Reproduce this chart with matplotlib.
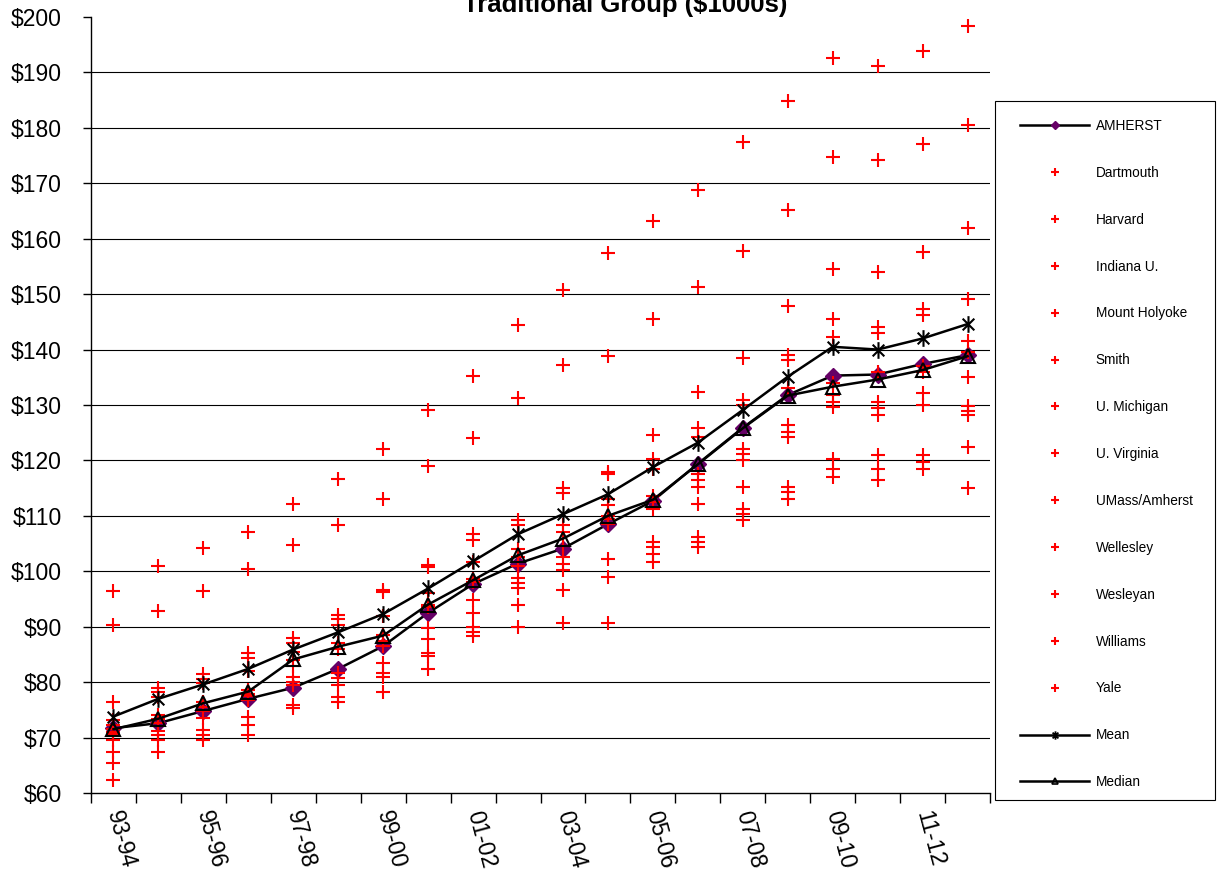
import numpy as np
import matplotlib
matplotlib.use("Agg")
import matplotlib.pyplot as plt
from matplotlib.path import Path
from matplotlib.lines import Line2D
from matplotlib.ticker import FuncFormatter

plt.rcParams['font.family'] = ['Liberation Sans', 'DejaVu Sans']

years = ['93-94', '94-95', '95-96', '96-97', '97-98', '98-99', '99-00', '00-01',
         '01-02', '02-03', '03-04', '04-05', '05-06', '06-07', '07-08', '08-09',
         '09-10', '10-11', '11-12', '12-13']

amherst = [71.7, 72.6, 74.8, 77.0, 79.0, 82.4, 86.5, 92.5, 97.7, 101.4,
           104.1, 108.5, 112.7, 119.4, 125.9, 131.8, 135.3, 135.5, 137.4, 139.0]
mean = [73.8, 77.0, 79.6, 82.4, 85.9, 89.0, 92.3, 96.9, 101.8, 106.7,
        110.3, 113.9, 118.8, 123.2, 129.1, 135.1, 140.5, 140.0, 142.0, 144.6]
median = [71.5, 73.4, 76.2, 78.3, 84.1, 86.4, 88.4, 94.0, 98.4, 102.9,
          105.9, 110.0, 112.9, 119.3, 125.8, 131.7, 133.3, 134.6, 136.3, 138.8]

# peer schools ($1000s)
yale = [96.5, 100.9, 104.2, 107.0, 112.2, 116.7, 122.1, 129.1, 135.2, 144.5,
        150.8, 157.5, 163.2, 168.8, 177.4, 184.8, 192.6, 191.2, 193.9, 198.4]
harvard = [90.3, 92.9, 96.5, 100.4, 104.7, 108.3, 113.1, 119.0, 124.1, 131.2,
           137.2, 138.9, 145.6, 151.2, 157.8, 165.2, 174.8, 174.2, 177.1, 180.5]
dartmouth = [76.4, 78.9, 81.4, 85.3, 88.0, 92.2, 96.7, 101.2, 106.8, 109.2,
             115.0, 118.0, 124.6, 132.4, 138.4, 147.9, 154.5, 154.0, 157.6, 162.0]
williams = [73.2, 78.2, 80.6, 84.4, 87.0, 91.4, 96.2, 100.8, 105.6, 108.3,
            114.1, 117.5, 120.2, 125.8, 130.9, 139.0, 145.5, 144.1, 147.4, 149.1]
wellesley = [72.2, 77.4, 79.8, 82.0, 85.5, 90.3, 92.0, 96.0, 101.7, 104.0,
             108.3, 113.0, 118.5, 124.3, 130.0, 138.1, 142.3, 142.9, 146.2, 141.5]
wesleyan = [71.6, 74.0, 76.5, 78.6, 84.0, 87.0, 88.5, 94.0, 98.6, 102.5,
            107.0, 112.0, 113.5, 117.6, 122.1, 133.0, 134.0, 136.0, 137.0, 139.5]
smith = [71.0, 73.4, 75.6, 77.9, 83.0, 86.0, 87.5, 93.5, 98.0, 101.0,
         104.5, 110.0, 112.5, 116.4, 121.2, 126.4, 131.8, 130.6, 136.0, 135.1]
mount_holyoke = [70.6, 72.6, 74.8, 77.5, 81.0, 81.6, 86.6, 89.7, 94.8, 98.7,
                 102.6, 109.5, 111.3, 115.2, 120.0, 125.2, 130.6, 129.4, 132.1, 129.9]
michigan = [69.6, 71.2, 73.5, 76.8, 80.1, 80.8, 83.4, 87.7, 92.5, 97.8,
            101.4, 108.6, 105.3, 112.2, 115.2, 124.3, 129.7, 128.2, 130.0, 129.0]
virginia = [67.4, 70.5, 71.4, 73.8, 79.5, 79.5, 81.6, 85.2, 90.0, 96.9,
            100.2, 102.3, 104.4, 106.2, 111.3, 115.2, 120.2, 120.9, 120.9, 128.2]
umass = [65.5, 69.6, 70.5, 72.3, 75.9, 77.4, 80.9, 84.7, 89.1, 93.9,
         96.7, 99.0, 103.2, 105.3, 110.4, 114.3, 118.5, 118.4, 119.7, 122.5]
indiana = [62.4, 67.4, 69.6, 70.4, 75.3, 76.5, 78.3, 82.3, 88.3, 90.0,
           90.6, 90.6, 101.7, 104.4, 109.2, 113.1, 117.0, 116.4, 118.5, 115.1]

schools = [('Dartmouth', dartmouth), ('Harvard', harvard), ('Indiana U.', indiana),
           ('Mount Holyoke', mount_holyoke), ('Smith', smith), ('U. Michigan', michigan),
           ('U. Virginia', virginia), ('UMass/Amherst', umass), ('Wellesley', wellesley),
           ('Wesleyan', wesleyan), ('Williams', williams), ('Yale', yale)]

# Excel style star: x with a vertical bar
star = Path([(0, -1), (0, 1), (-0.7, -0.7), (0.7, 0.7), (-0.7, 0.7), (0.7, -0.7)],
            [Path.MOVETO, Path.LINETO] * 3)

W, H = 1220, 882
fig = plt.figure(figsize=(W / 100, H / 100), dpi=100)
ax = fig.add_axes([91 / W, 1 - 793 / H, (990 - 91) / W, (793 - 17) / H])
x = np.arange(len(years))

ax.plot(x, amherst, color='black', lw=1.8, marker='D', ms=8, mfc='#660066', mec='#660066')
for name, vals in schools:
    ax.plot(x, vals, ls='none', marker='+', ms=10, mew=1.5, color='red')
ax.plot(x, mean, color='black', lw=1.8, marker=star, ms=12, mew=1.5, mec='black')
ax.plot(x, median, color='black', lw=1.8, marker='^', ms=10, mew=1.5, mfc='none', mec='black')

ax.set_xlim(-0.5, len(years) - 0.5)
ax.set_ylim(60, 200)
ax.set_yticks(range(60, 201, 10))
ax.yaxis.set_major_formatter(FuncFormatter(lambda v, p: '$%d' % v))
ax.yaxis.grid(True, color='black', lw=0.8)
ax.set_axisbelow(True)
gl = ax.get_ygridlines()
gl[0].set_visible(False)
gl[-1].set_visible(False)

ax.set_xticks(np.arange(-0.5, len(years), 1))
ax.set_xticklabels([])
ax.set_xticks(x[::2], labels=years[::2], minor=True)
ax.tick_params(axis='x', which='major', length=7, width=1)
ax.tick_params(axis='x', which='minor', length=0, pad=13, labelsize=16.5)
ax.tick_params(axis='y', length=6, width=1, pad=15, labelsize=16.5)
for lbl in ax.get_xticklabels(minor=True):
    lbl.set_rotation(-75)
    lbl.set_rotation_mode('anchor')
    lbl.set_ha('left')
    lbl.set_va('center')

for s in ['top', 'right']:
    ax.spines[s].set_visible(False)
for s in ['left', 'bottom']:
    ax.spines[s].set_linewidth(1)

fig.text(625 / W, 1 - 12 / H, 'Traditional Group ($1000s)', ha='center', va='baseline',
         fontsize=18.5, fontweight='bold')

# legend
handles = [Line2D([], [], color='black', lw=1.8, marker='D', ms=4, mfc='#660066', mec='#660066')]
labels = ['AMHERST']
for name, vals in schools:
    handles.append(Line2D([], [], ls='none', marker='+', ms=6, mew=1.5, color='red'))
    labels.append(name)
handles.append(Line2D([], [], color='black', lw=1.8, marker=star, ms=6, mew=1.3, mec='black'))
labels.append('Mean')
handles.append(Line2D([], [], color='black', lw=1.8, marker='^', ms=5, mew=1.2, mfc='none', mec='black'))
labels.append('Median')

fig.legend(handles, labels, loc='upper left', bbox_to_anchor=(1020 / W, 1 - 119 / H),
           frameon=False, fontsize=9.8, handlelength=5.07, handletextpad=0.5,
           labelspacing=2.415, borderpad=0, borderaxespad=0)
box = plt.Rectangle((995 / W, 1 - 800 / H), 220 / W, 699 / H, transform=fig.transFigure,
                    fill=False, ec='black', lw=0.8)
fig.add_artist(box)

fig.savefig('out.png', dpi=100)
